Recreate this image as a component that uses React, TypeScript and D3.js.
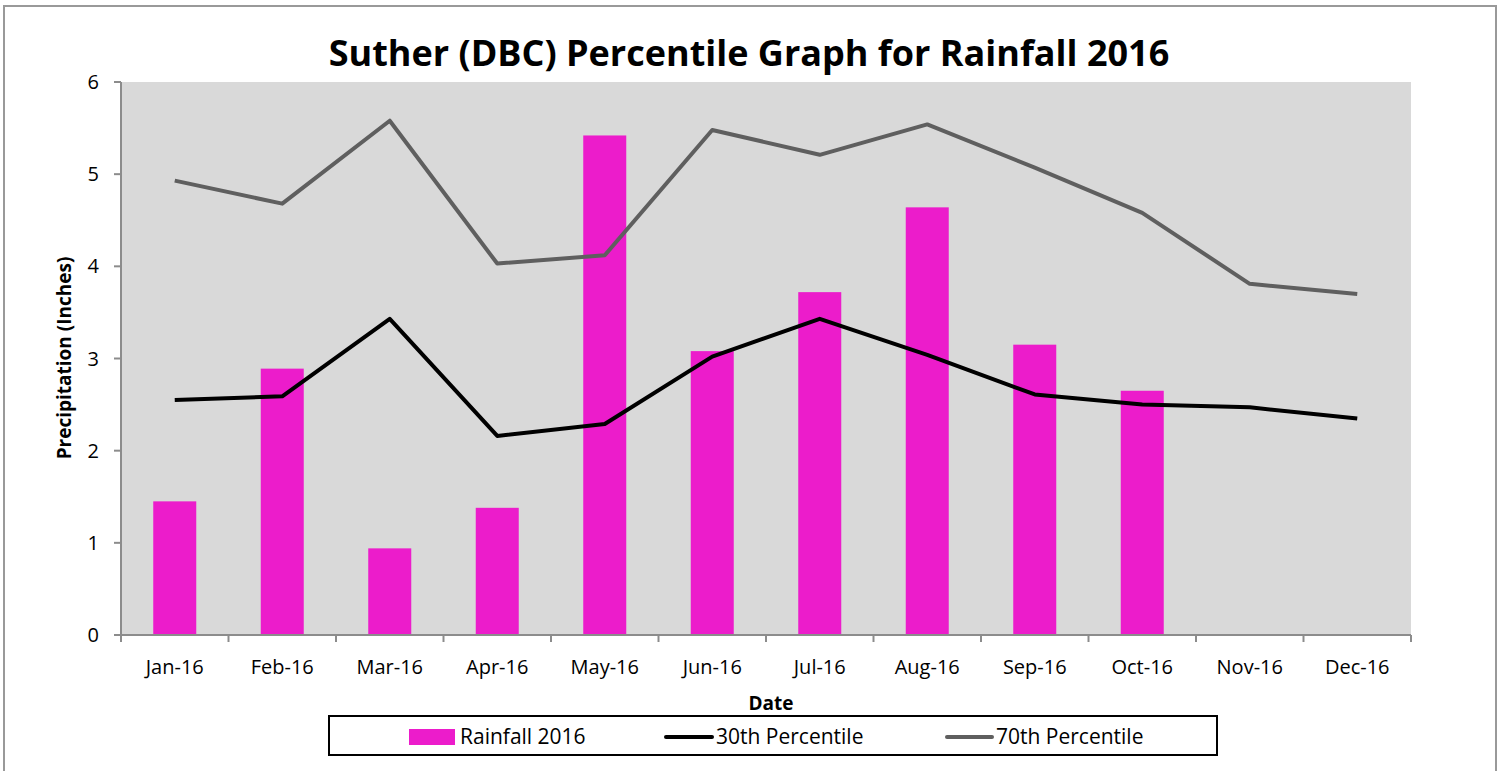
import React from "react";
import * as d3 from "d3";

const categories = ["Jan-16","Feb-16","Mar-16","Apr-16","May-16","Jun-16","Jul-16","Aug-16","Sep-16","Oct-16","Nov-16","Dec-16"];
const rainfall: (number|null)[] = [1.45, 2.89, 0.94, 1.38, 5.42, 3.08, 3.72, 4.64, 3.15, 2.65, null, null];
const p30 = [2.55, 2.59, 3.43, 2.16, 2.29, 3.02, 3.43, 3.04, 2.61, 2.50, 2.47, 2.35];
const p70 = [4.93, 4.68, 5.58, 4.03, 4.12, 5.48, 5.21, 5.54, 5.07, 4.58, 3.81, 3.70];
const yTicks = [0, 1, 2, 3, 4, 5, 6];

const FONT = "'Open Sans', 'Liberation Sans', sans-serif";

export default function App() {
  const W = 1504, H = 771;
  const left = 121, right = 1411, top = 82, bottom = 635;
  const x = d3.scaleBand<string>().domain(categories).range([left, right]).paddingInner(0).paddingOuter(0);
  const y = d3.scaleLinear().domain([0, 6]).range([bottom, top]);
  const bw = x.bandwidth();
  const barW = bw * 0.4;
  const cx = (c: string) => (x(c) as number) + bw / 2;
  const line = d3.line<number>().x((_, i) => cx(categories[i])).y(d => y(d));

  return (
    <svg width={W} height={H} style={{ position: "absolute", left: 0, top: 0, display: "block" }}>
      <rect x={0} y={0} width={W} height={H} fill="#fff" />
      <rect x={4} y={6} width={1492} height={780} fill="#fff" stroke="#999" strokeWidth={2} />
      <text x={749} y={66} textAnchor="middle" fontFamily={FONT} fontWeight="bold" fontSize={36} fill="#000">
        Suther (DBC) Percentile Graph for Rainfall 2016
      </text>
      <rect x={left} y={top} width={right - left} height={bottom - top} fill="#D9D9D9" />
      {rainfall.map((v, i) => v == null ? null : (
        <rect key={i} x={cx(categories[i]) - barW / 2} y={y(v)} width={barW} height={y(0) - y(v)} fill="#EC1CCB" />
      ))}
      <path d={line(p70) || ""} fill="none" stroke="#5F5F5F" strokeWidth={4} strokeLinejoin="round" />
      <path d={line(p30) || ""} fill="none" stroke="#000" strokeWidth={4} strokeLinejoin="round" />
      {/* y axis */}
      <line x1={left} x2={left} y1={top} y2={bottom} stroke="#8c8c8c" strokeWidth={2} />
      {yTicks.map(t => (
        <g key={t}>
          <line x1={left - 7} x2={left} y1={y(t)} y2={y(t)} stroke="#8c8c8c" strokeWidth={2} />
          <text x={99} y={y(t)} dy="0.35em" textAnchor="end" fontFamily={FONT} fontSize={20} fill="#000">{t}</text>
        </g>
      ))}
      {/* x axis */}
      <line x1={left} x2={right} y1={bottom} y2={bottom} stroke="#8c8c8c" strokeWidth={2} />
      {categories.map((c, i) => (
        <line key={"t" + i} x1={x(c) as number} x2={x(c) as number} y1={bottom} y2={bottom + 7} stroke="#8c8c8c" strokeWidth={2} />
      ))}
      <line x1={right} x2={right} y1={bottom} y2={bottom + 7} stroke="#8c8c8c" strokeWidth={2} />
      {categories.map(c => (
        <text key={c} x={cx(c)} y={667} dy="0.35em" textAnchor="middle" fontFamily={FONT} fontSize={20} fill="#000">{c}</text>
      ))}
      <text x={771} y={703} dy="0.35em" textAnchor="middle" fontFamily={FONT} fontWeight="bold" fontSize={19} fill="#000">Date</text>
      <text transform={`translate(64,358) rotate(-90)`} dy="0.35em" textAnchor="middle" fontFamily={FONT} fontWeight="bold" fontSize={19} fill="#000">Precipitation (Inches)</text>
      {/* legend */}
      <rect x={329} y={716} width={888} height={39} fill="#fff" stroke="#000" strokeWidth={2} />
      <rect x={409} y={729} width={46} height={16} fill="#EC1CCB" />
      <text x={460} y={737} dy="0.35em" fontFamily={FONT} fontSize={21} fill="#000">Rainfall 2016</text>
      <line x1={666} x2={712} y1={737} y2={737} stroke="#000" strokeWidth={4} strokeLinecap="round" />
      <text x={716} y={737} dy="0.35em" fontFamily={FONT} fontSize={21} fill="#000">30th Percentile</text>
      <line x1={947} x2={992} y1={737} y2={737} stroke="#5F5F5F" strokeWidth={4} strokeLinecap="round" />
      <text x={996} y={737} dy="0.35em" fontFamily={FONT} fontSize={21} fill="#000">70th Percentile</text>
    </svg>
  );
}
